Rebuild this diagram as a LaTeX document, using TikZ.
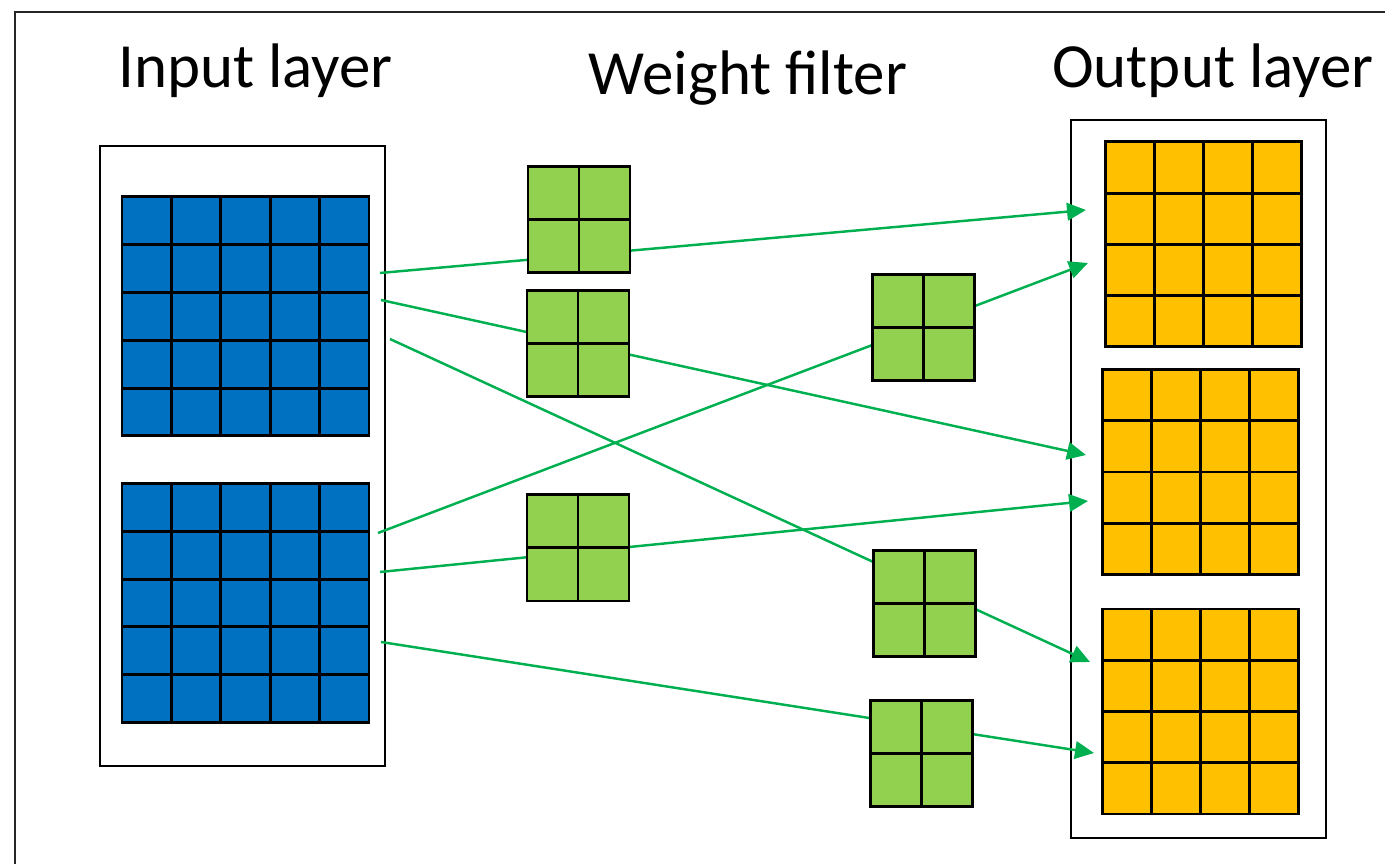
\documentclass[tikz,border=0pt]{standalone}
\usepackage{fontspec}
\setmainfont{Carlito}
\usetikzlibrary{arrows.meta}

\definecolor{inblue}{HTML}{0070C0}
\definecolor{outorange}{HTML}{FFC000}
\definecolor{filtgreen}{HTML}{92D050}
\definecolor{linkgreen}{HTML}{00B050}

\begin{document}
\begin{tikzpicture}[
    every node/.style={inner sep=0pt, outer sep=0pt},
    title/.style={anchor=base, font=\fontsize{17.9}{20}\selectfont},
    layerbox/.style={draw, line width=0.75pt},
    % cells={n}{cell width}{cell height}: n x n lines inside a node
    cells/.style n args={3}{path picture={
      \foreach \i in {1,...,#1} {
        \draw[line width=0.85pt] ([xshift=\i*#2 cm]path picture bounding box.south west) -- ++(0,#1*#3+#3);
        \draw[line width=0.85pt] ([yshift=\i*#3 cm]path picture bounding box.south west) -- ++(#1*#2+#2,0);
      }}},
    inmap/.style={draw, line width=0.85pt, fill=inblue,
      minimum width=2.47cm, minimum height=2.39cm, cells={4}{0.494}{0.478}},
    outmap/.style={draw, line width=0.85pt, fill=outorange,
      minimum width=1.96cm, minimum height=2.05cm, cells={3}{0.49}{0.5125}},
    filter/.style={draw, line width=0.85pt, fill=filtgreen,
      minimum width=1.02cm, minimum height=1.06cm, cells={1}{0.51}{0.53}},
    link/.style={draw=linkgreen, line width=0.7pt, -{Triangle[length=5.4pt,width=5pt]}}
  ]
    \useasboundingbox (0,0) rectangle (13.85,-8.64);

    % Frame
    \draw[line width=0.6pt, black!85] (0.15,-8.64) -- (0.15,-0.12) -- (13.85,-0.12);

    % Titles
    \node[title] (tin) at (2.555,-0.88) {Input layer};
    \node[title] (tw) at (7.48,-0.95) {Weight filter};
    \node[title] (tout) at (12.13,-0.88) {Output layer};

    % Input layer
    \node[layerbox, minimum width=2.85cm, minimum height=6.2cm] (inbox) at (2.425,-4.56) {};
    \node[inmap] (in1) at (2.455,-3.165) {};
    \node[inmap] (in2) at (2.455,-6.03) {};

    % Output layer
    \node[layerbox, minimum width=2.55cm, minimum height=7.18cm] (outbox) at (11.985,-4.79) {};
    \node[outmap] (out1) at (12.03,-2.445) {};
    \node[outmap] (out2) at (12.005,-4.72) {};
    \node[outmap] (out3) at (12.0,-7.115) {};

    % Connections (behind the filters)
    \coordinate (s1) at (3.80,-2.73);  \coordinate (t1) at (10.86,-2.10);
    \coordinate (s2) at (3.81,-3.00);  \coordinate (t2) at (10.86,-4.55);
    \coordinate (s3) at (3.90,-3.39);  \coordinate (t3) at (10.90,-6.62);
    \coordinate (s4) at (3.78,-5.33);  \coordinate (t4) at (10.88,-2.63);
    \coordinate (s5) at (3.80,-5.72);  \coordinate (t5) at (10.88,-5.01);
    \coordinate (s6) at (3.81,-6.42);  \coordinate (t6) at (10.94,-7.53);
    \foreach \i in {1,...,6}
      \draw[link] (s\i) -- (t\i);

    % Weight filters
    \node[filter] (f1) at (5.79,-2.20) {};
    \node[filter] (f2) at (5.78,-3.44) {};
    \node[filter] (f3) at (9.235,-3.28) {};
    \node[filter] (f4) at (5.78,-5.48) {};
    \node[filter] (f5) at (9.24,-6.035) {};
    \node[filter] (f6) at (9.215,-7.535) {};
  \end{tikzpicture}
\end{document}
